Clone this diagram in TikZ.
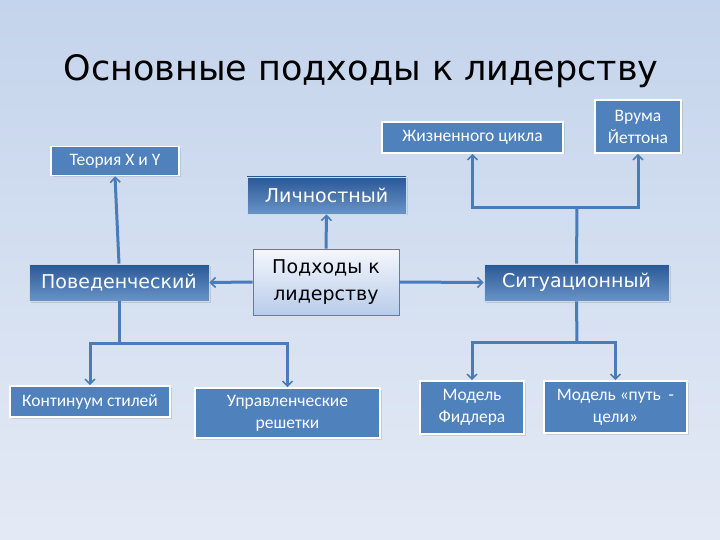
\documentclass[tikz,border=0pt]{standalone}
\usepackage{fontspec}
\setmainfont{DejaVu Sans}
\newfontfamily\leaffont{Carlito}
\usetikzlibrary{arrows.meta,shadows}

\definecolor{slideTop}{RGB}{196,212,236}
\definecolor{slideBottom}{RGB}{228,234,245}
\definecolor{boxBlue}{RGB}{79,129,189}
\definecolor{boxDark}{RGB}{42,88,150}
\definecolor{lineBlue}{RGB}{74,124,186}
\definecolor{paleTop}{RGB}{244,247,253}
\definecolor{paleBottom}{RGB}{184,204,234}

\begin{document}
\begin{tikzpicture}[
    x=1pt,
    y=-1pt,
    leaf box/.style={draw=white, line width=1.6pt, fill=boxBlue, text=white,
      font=\leaffont\fontsize{17.5}{22}\selectfont, inner sep=0pt, align=center,
      drop shadow={opacity=0.25, shadow xshift=1.5pt, shadow yshift=-1.5pt}},
    branch box/.style={draw=white!70!boxBlue, line width=0.8pt, top color=boxDark,
      bottom color=boxBlue!85!white, text=white, font=\fontsize{19}{22}\selectfont,
      inner sep=0pt, drop shadow={opacity=0.25, shadow xshift=1.5pt, shadow yshift=-1.5pt}},
    root box/.style={draw=boxBlue, line width=0.8pt, top color=paleTop,
      bottom color=paleBottom, text=black, font=\fontsize{19}{27}\selectfont,
      inner sep=0pt, align=center},
    link/.style={draw=lineBlue, line width=3pt,
      -{Straight Barb[length=5pt, width=10pt, line width=1.6pt]}},
    plain link/.style={draw=lineBlue, line width=3pt}
]

% Slide background, which also fixes the page size.
\shade[top color=slideTop, bottom color=slideBottom] (0,0) rectangle (720,540);
\useasboundingbox (0,0) rectangle (720,540);

% Title.
\node[font=\fontsize{35}{40}\selectfont, text=black] (title) at (361,71)
  {Основные подходы к лидерству};

% Root and the three approaches.
\node[root box, minimum width=146pt, minimum height=66pt] (root) at (326,282)
  {Подходы к\\лидерству};
\node[branch box, minimum width=159pt, minimum height=37pt] (lich) at (326.5,195.5)
  {Личностный};
\node[branch box, minimum width=180pt, minimum height=37pt] (pov) at (119,282.5)
  {Поведенческий};
\node[branch box, minimum width=185pt, minimum height=37pt] (sit) at (576.5,282.5)
  {Ситуационный};

% Leaf models.
\node[leaf box, minimum width=128pt, minimum height=29pt] (teor) at (115,161)
  {Теория X и Y};
\node[leaf box, minimum width=181pt, minimum height=31pt] (zhizn) at (472.5,137.5)
  {Жизненного цикла};
\node[leaf box, minimum width=86pt, minimum height=53pt] (vroom) at (638,126.5)
  {Врума\\Йеттона};
\node[leaf box, minimum width=160pt, minimum height=31pt] (kont) at (90,401.5)
  {Континуум стилей};
\node[leaf box, minimum width=185pt, minimum height=50pt] (upr) at (287.5,413)
  {Управленческие\\решетки};
\node[leaf box, minimum width=104pt, minimum height=53pt] (fidl) at (472,407.5)
  {Модель\\Фидлера};
\node[leaf box, minimum width=143pt, minimum height=52pt] (put) at (615.5,407)
  {Модель «путь \ -\\цели»};

% Fork points of the branching connectors.
\coordinate (sitUp) at (577,208);
\coordinate (sitDown) at (577,342);
\coordinate (povDown) at (119,343);

% Root to the approaches.
\draw[link] (root.north) -- (lich.south);
\draw[link] (root.west) -- (pov.east);
\draw[link] (root.east) -- (sit.east -| sit.west);

% Behavioural branch.
\draw[link] (pov.north) -- (teor.south);
\draw[plain link] (pov.south) -- (povDown);
\draw[link] (povDown) -| (kont.north);
\draw[link] (povDown) -| (upr.north);

% Situational branch.
\draw[plain link] (sit.north) -- (sitUp);
\draw[link] (sitUp) -| (zhizn.south);
\draw[link] (sitUp) -| (vroom.south);
\draw[plain link] (sit.south) -- (sitDown);
\draw[link] (sitDown) -| (fidl.north);
\draw[link] (sitDown) -| (put.north);

\end{tikzpicture}
\end{document}
